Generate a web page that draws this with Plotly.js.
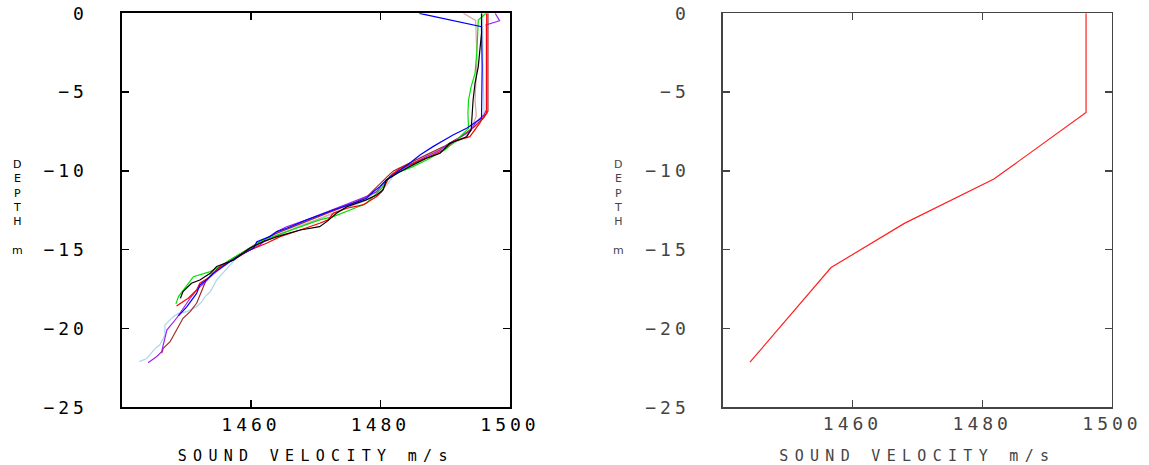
<!DOCTYPE html>
<html>
<head>
<meta charset="utf-8">
<script src="https://cdn.plot.ly/plotly-3.0.1.min.js"></script>
<style>
  html, body { margin: 0; padding: 0; background: #fff; }
  .xtick text, .x2tick text, .ytick text, .y2tick text { letter-spacing: 4px; }
  .xtitle, .x2title { letter-spacing: 6.3px; }
</style>
</head>
<body>
<div id="chart" style="width:1149px;height:465px;"></div>
<script>
// ---- data (sound velocity m/s, depth m) ----
const blackVel = [1495.6,1495.6,1495.1,1494.6,1494.3,1494.2,1494.0,1493.3,1490.7,1489.2,1487.1,1485.0,1483.0,1480.9,1480.4,1479.4,1477.8,1474.8,1473.2,1471.7,1470.6,1467.6,1464.0,1461.9,1459.8,1457.3,1454.7,1453.7,1452.1,1450.8,1449.5,1449.1];
const blackDepth = [0,-1.27,-3.38,-4.44,-5.50,-6.35,-7.40,-7.83,-8.25,-8.88,-9.20,-9.62,-10.05,-10.58,-11.21,-11.53,-11.84,-12.27,-12.69,-13.22,-13.54,-13.75,-14.17,-14.49,-14.91,-15.65,-16.07,-16.50,-16.92,-17.13,-17.66,-18.08];

const redVel = [1496.4,1496.4,1496.1,1495.3,1493.8,1491.2,1489.7,1487.6,1485.0,1483.0,1481.4,1480.9,1480.2,1479.4,1477.3,1474.8,1472.7,1471.9,1470.6,1467.6,1464.5,1462.4,1459.8,1457.3,1455.2,1453.7,1452.1,1451.6,1450.3,1448.5];
const redDepth = [0,-6.35,-6.45,-6.98,-7.83,-8.14,-8.67,-9.09,-9.52,-9.83,-10.36,-10.79,-11.32,-11.63,-12.16,-12.37,-12.69,-13.11,-13.32,-13.75,-14.17,-14.59,-15.02,-15.65,-16.07,-16.71,-17.13,-17.56,-18.08,-18.57];

const greenVel = [1496.3,1495.1,1494.9,1494.6,1494.0,1493.6,1493.5,1493.6,1491.2,1489.9,1487.1,1485.0,1482.5,1480.9,1480.2,1478.9,1477.8,1475.3,1472.7,1470.6,1467.6,1464.5,1461.9,1459.8,1456.7,1455.2,1453.7,1451.1,1449.5,1448.8,1448.4];
const greenDepth = [0,-0.42,-2.33,-3.81,-4.65,-5.50,-6.35,-7.30,-8.25,-8.67,-9.31,-9.73,-10.15,-10.58,-11.10,-11.63,-12.06,-12.48,-12.90,-13.11,-13.54,-13.96,-14.38,-14.91,-15.65,-16.07,-16.39,-16.71,-17.56,-17.98,-18.44];

const blueVel = [1486.0,1494.8,1495.6,1495.7,1495.7,1495.6,1493.3,1491.2,1488.1,1486.1,1484.5,1483.0,1480.9,1479.9,1478.9,1477.8,1475.8,1472.7,1470.6,1468.6,1465.5,1464.0,1462.9,1460.9,1460.4,1458.3,1456.7,1455.7,1454.2,1453.1,1452.1,1451.6,1450.1,1448.8];
const blueDepth = [0,-0.74,-0.85,-3.38,-6.35,-6.66,-7.30,-7.72,-8.46,-8.99,-9.52,-9.94,-10.58,-11.00,-11.32,-11.74,-12.06,-12.48,-12.80,-13.11,-13.64,-13.85,-14.17,-14.49,-14.91,-15.33,-15.76,-16.07,-16.50,-16.92,-17.24,-17.77,-18.61,-19.20];

const purpleVel = [1497.7,1498.4,1496.3,1496.35,1496.35,1496.0,1494.8,1493.8,1490.7,1489.2,1487.1,1485.0,1483.0,1482.0,1480.4,1479.4,1477.8,1475.8,1473.2,1471.2,1468.6,1465.5,1464.0,1462.4,1461.4,1459.8,1458.3,1456.2,1454.7,1453.7,1452.6,1451.6,1450.6,1450.1,1449.0,1448.5,1447.0,1446.5,1446.2,1445.4,1444.1];
const purpleDepth = [0,-0.47,-0.74,-0.85,-6.13,-6.45,-6.87,-7.51,-8.25,-8.67,-9.09,-9.52,-9.94,-10.15,-10.79,-11.32,-11.63,-11.95,-12.37,-12.69,-13.11,-13.54,-13.85,-14.28,-14.70,-15.02,-15.33,-15.86,-16.29,-16.71,-17.13,-17.56,-18.08,-18.40,-19.03,-19.35,-20.10,-20.94,-21.47,-21.79,-22.17];

const lightblueVel = [1495.8,1495.8,1496.0,1495.5,1493.0,1490.0,1487.0,1484.0,1482.0,1481.0,1479.5,1477.0,1474.0,1471.0,1468.0,1465.0,1462.0,1460.0,1458.0,1456.5,1454.7,1453.7,1452.9,1452.4,1451.6,1450.1,1448.8,1448.0,1446.7,1446.7,1445.9,1445.2,1443.9,1442.75];
const lightblueDepth = [0,-3.0,-6.3,-6.7,-7.9,-8.5,-9.2,-9.8,-10.3,-10.9,-11.5,-12.0,-12.5,-13.0,-13.4,-13.9,-14.4,-14.9,-15.4,-16.1,-16.92,-17.67,-17.98,-18.30,-18.62,-18.93,-19.04,-19.25,-19.78,-20.41,-21.05,-21.26,-21.90,-22.10];

const brownVel = [1496.6,1496.6,1496.0,1494.5,1492.5,1490.0,1487.0,1484.5,1482.0,1481.2,1479.4,1478.0,1476.0,1473.0,1470.0,1467.0,1464.0,1461.5,1459.5,1457.5,1455.5,1454.0,1453.0,1452.2,1451.6,1450.6,1449.5,1448.5,1447.5,1446.45,1446.2];
const brownDepth = [0,-6.2,-6.6,-7.2,-7.8,-8.4,-9.0,-9.5,-10.0,-10.3,-11.0,-11.6,-12.0,-12.5,-13.0,-13.45,-13.95,-14.45,-14.95,-15.45,-16.0,-16.5,-17.0,-17.8,-18.4,-18.93,-19.35,-20.1,-20.84,-21.26,-21.57];

const pinkVel = [1492.8,1494.7,1494.9,1494.6,1494.8,1494.0,1491.5,1488.5,1485.5,1483.0,1481.0,1479.8,1478.0,1475.5,1472.5,1469.5,1466.5,1463.5,1461.0,1459.0,1457.0,1455.0,1453.5,1452.5];
const pinkDepth = [0,-0.45,-3.0,-5.5,-6.5,-7.4,-8.1,-8.8,-9.4,-9.9,-10.6,-11.2,-11.7,-12.2,-12.7,-13.2,-13.7,-14.2,-14.7,-15.2,-15.7,-16.3,-16.8,-17.3];

const modelVel = [1496.0,1496.0,1481.8,1468.0,1456.7,1444.2];
const modelDepth = [0,-6.29,-10.52,-13.33,-16.13,-22.14];

const xTickVals = [1460, 1480, 1500];
const yTickVals = [0, -5, -10, -15, -20, -25];
const xTitle = 'SOUND VELOCITY m/s';
const yLabelLines = ['D', 'E', 'P', 'T', 'H', '', 'm'];

// ---- layout helpers ----
const W = 1149, H = 465;
const FONT = 'DejaVu Sans Mono, monospace';

const leftSeries = [
  [lightblueVel, lightblueDepth, '#a8d8ea'],
  [pinkVel, pinkDepth, '#d4a5a5'],
  [brownVel, brownDepth, '#a52a2a'],
  [purpleVel, purpleDepth, '#a020f0'],
  [greenVel, greenDepth, '#00e000'],
  [redVel, redDepth, '#ff0000'],
  [blueVel, blueDepth, '#0000ff'],
  [blackVel, blackDepth, '#000000']
];

const traces = leftSeries.map(s => ({
  x: s[0], y: s[1], type: 'scatter', mode: 'lines',
  line: {color: s[2], width: 1.2}, xaxis: 'x', yaxis: 'y', hoverinfo: 'skip'
}));
traces.push({
  x: modelVel, y: modelDepth, type: 'scatter', mode: 'lines',
  line: {color: '#ff2020', width: 1.2}, xaxis: 'x2', yaxis: 'y2', hoverinfo: 'skip'
});

function xAxis(domain, anchor, col, lw) {
  return {
    domain: domain, anchor: anchor, range: [1440, 1500],
    tickvals: xTickVals, ticks: 'inside', ticklen: 7, tickwidth: 1.3, tickcolor: col,
    showline: true, linecolor: col, linewidth: lw, mirror: 'ticks',
    showgrid: false, zeroline: false, fixedrange: true,
    tickfont: {family: FONT, size: 18, color: col},
    ticklabelstandoff: 0,
    title: {text: xTitle, font: {family: FONT, size: 15, color: col}, standoff: 18}
  };
}
function yAxis(anchor, col, lw) {
  return {
    domain: [1 - 407.3 / H, 1 - 13.3 / H], anchor: anchor, range: [-25, 0],
    tickvals: yTickVals, ticks: 'inside', ticklen: 7, tickwidth: 1.3, tickcolor: col,
    showline: true, linecolor: col, linewidth: lw, mirror: 'ticks',
    showgrid: false, zeroline: false, fixedrange: true,
    tickfont: {family: FONT, size: 18, color: col},
    ticklabelstandoff: 28
  };
}

const annotations = [[17.5, '#000'], [618, '#444']].map(([xp, col]) => ({
  xref: 'paper', yref: 'paper', x: xp / W, y: 1 - 207 / H,
  xanchor: 'center', yanchor: 'middle', showarrow: false, align: 'center',
  text: yLabelLines.join('<br>'),
  font: {family: 'DejaVu Sans, sans-serif', size: 11, color: col}
}));

const layout = {
  width: W, height: H,
  margin: {l: 0, r: 0, t: 0, b: 0},
  paper_bgcolor: '#ffffff', plot_bgcolor: '#ffffff',
  showlegend: false,
  xaxis: xAxis([121.5 / W, 510 / W], 'y', '#000', 2),
  yaxis: yAxis('x', '#000', 2),
  xaxis2: xAxis([722.7 / W, 1112 / W], 'y2', '#444', 1.3),
  yaxis2: yAxis('x2', '#444', 1.3),
  annotations: annotations
};

Plotly.newPlot('chart', traces, layout, {displayModeBar: false, staticPlot: true});
</script>
</body>
</html>
